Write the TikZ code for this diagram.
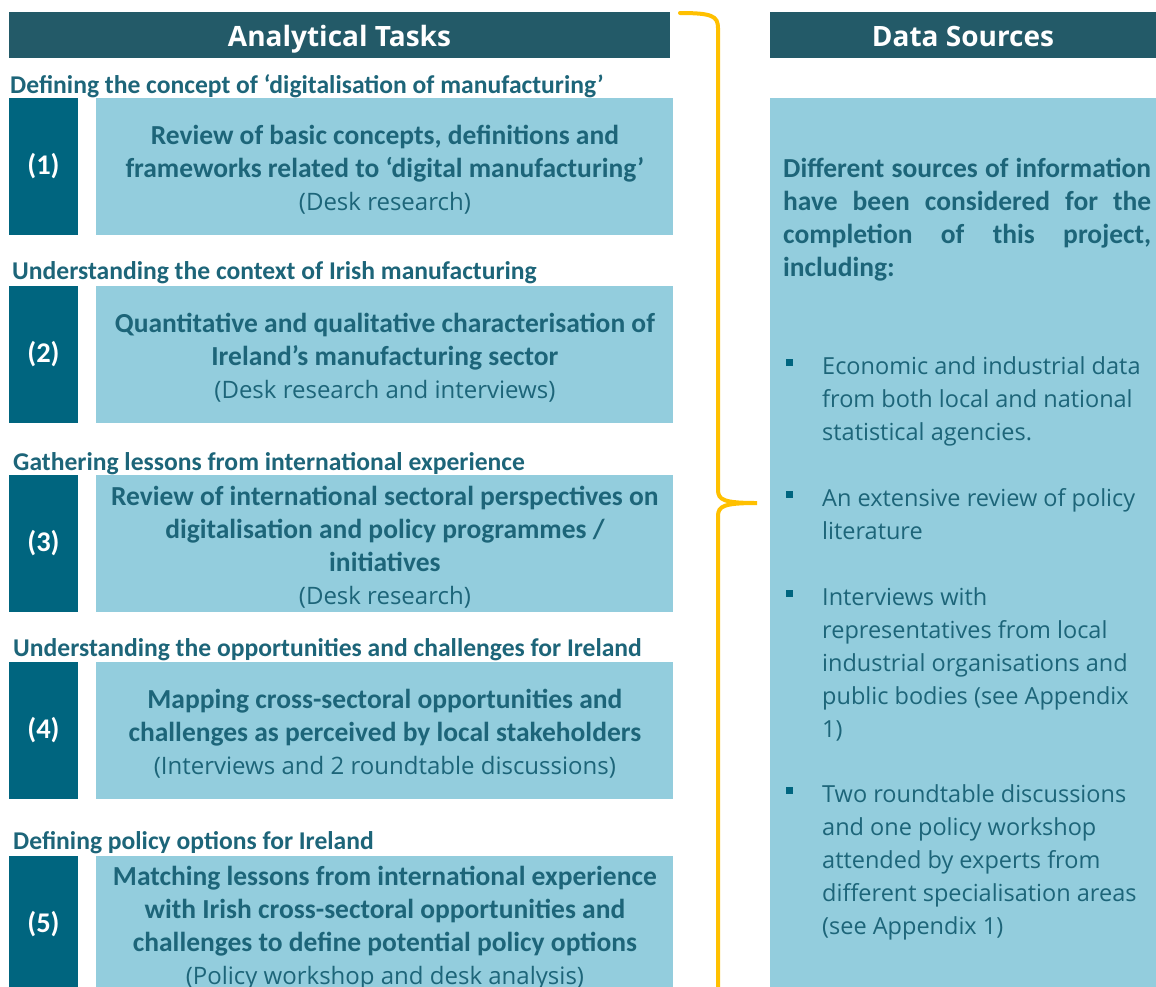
\documentclass[tikz,border=0pt]{standalone}
\usepackage{fontspec}
\setmainfont{Carlito}
\newfontfamily\segoe{Open Sans}
\usetikzlibrary{positioning}

\definecolor{headteal}{HTML}{235A68}
\definecolor{numteal}{HTML}{00657F}
\definecolor{lightblue}{HTML}{93CDDD}
\definecolor{textteal}{HTML}{1D6579}
\definecolor{braceyellow}{HTML}{FFC000}

\newcommand{\srcnote}[1]{{\segoe\mdseries\fontsize{24}{33}\selectfont #1}}
\newcommand{\taskstrut}{\rule{0pt}{26pt}}

\begin{document}
\begin{tikzpicture}
		[x=1pt,y=-1pt,
		head node/.style={fill=headteal,text=white,inner sep=0pt,minimum height=46pt,text height=24pt,text depth=2pt,font=\segoe\bfseries\fontsize{28}{30}\selectfont},
		sub node/.style={anchor=west,inner sep=0pt,text=textteal,font=\bfseries\fontsize{25.6}{30}\selectfont},
		num node/.style={fill=numteal,text=white,inner sep=0pt,minimum width=69pt,minimum height=137pt,font=\bfseries\fontsize{28.5}{30}\selectfont},
		task node/.style={fill=lightblue,text=textteal,align=center,inner sep=0pt,minimum width=577pt,minimum height=137pt,font=\bfseries\fontsize{27.5}{33}\selectfont},
		bullet box/.style={fill=numteal,inner sep=0pt,minimum size=7pt},
		bullet text/.style={anchor=base west,inner sep=0pt,text=textteal,align=left,font=\segoe\fontsize{23.5}{33}\selectfont}]
		\useasboundingbox (0,0) rectangle (1156,986);
		
		% headers
		\node[head node,minimum width=661pt] (tasks) at (339.5,35) {Analytical Tasks};
		\node[head node,minimum width=386pt] (sources) at (963,35) {Data Sources};
		
		% analytical tasks
		\node[sub node] (s1) at (10,86) {Defining the concept of ‘digitalisation of manufacturing’};
		\node[num node] (n1) at (43.5,166.5) {(1)};
		\node[task node,right=18pt of n1] (t1) {\taskstrut Review of basic concepts, definitions and\\frameworks related to ‘digital manufacturing’\\\srcnote{(Desk research)}};
		
		\node[sub node] (s2) at (12,273) {Understanding the context of Irish manufacturing};
		\node[num node] (n2) at (43.5,354) {(2)};
		\node[task node,right=18pt of n2] (t2) {\taskstrut Quantitative and qualitative characterisation of\\Ireland’s manufacturing sector\\\srcnote{(Desk research and interviews)}};
		
		\node[sub node] (s3) at (13,464) {Gathering lessons from international experience};
		\node[num node] (n3) at (43.5,543.5) {(3)};
		\node[task node,right=18pt of n3] (t3) {\taskstrut Review of international sectoral perspectives on\\digitalisation and policy programmes /\\initiatives\\\srcnote{(Desk research)}};
		
		\node[sub node] (s4) at (13,650) {Understanding the opportunities and challenges for Ireland};
		\node[num node] (n4) at (43.5,730) {(4)};
		\node[task node,right=18pt of n4] (t4) {\taskstrut Mapping cross-sectoral opportunities and\\challenges as perceived by local stakeholders\\\srcnote{(Interviews and 2 roundtable discussions)}};
		
		\node[sub node] (s5) at (13,843) {Defining policy options for Ireland};
		\node[num node] (n5) at (43.5,924.5) {(5)};
		\node[task node,right=18pt of n5] (t5) {\taskstrut Matching lessons from international experience\\with Irish cross-sectoral opportunities and\\challenges to define potential policy options\\\srcnote{(Policy workshop and desk analysis)}};
		
		% brace
		\coordinate (brace top) at (680,13);
		\coordinate (brace tip) at (757,503);
		\coordinate (brace end) at (718,995);
		\draw[braceyellow,line width=4pt,line cap=round]
		(brace top) .. controls (712,13) and (718,16) .. (718,28)
		-- (718,490) .. controls (718,500) and (724,503) .. (brace tip)
		.. controls (724,503) and (718,506) .. (718,516) -- (brace end);
		
		% data sources
		\node[fill=lightblue,inner sep=0pt,minimum width=386pt,minimum height=900pt,below=40pt of sources] (panel) {};
		\node[anchor=west,inner sep=0pt,text width=368pt,align=justify,text=textteal,font=\bfseries\fontsize{27.5}{33}\selectfont] (intro) at (783,219.5) {Different sources of information\linebreak have been considered for the\linebreak completion of this project,\linebreak including:};
		
		\node[bullet box] (d1) at (789,362.5) {};
		\node[bullet text] (b1) at (822,440) {Economic and industrial data\\from both local and national\\statistical agencies.};
		\node[bullet box] (d2) at (789,494.5) {};
		\node[bullet text] (b2) at (822,539) {An extensive review of policy\\literature};
		\node[bullet box] (d3) at (789,593.5) {};
		\node[bullet text] (b3) at (822,737) {Interviews with\\representatives from local\\industrial organisations and\\public bodies (see Appendix\\1)};
		\node[bullet box] (d4) at (789,790.5) {};
		\node[bullet text] (b4) at (822,934) {Two roundtable discussions\\and one policy workshop\\attended by experts from\\different specialisation areas\\(see Appendix 1)};
		\end{tikzpicture}
\end{document}
